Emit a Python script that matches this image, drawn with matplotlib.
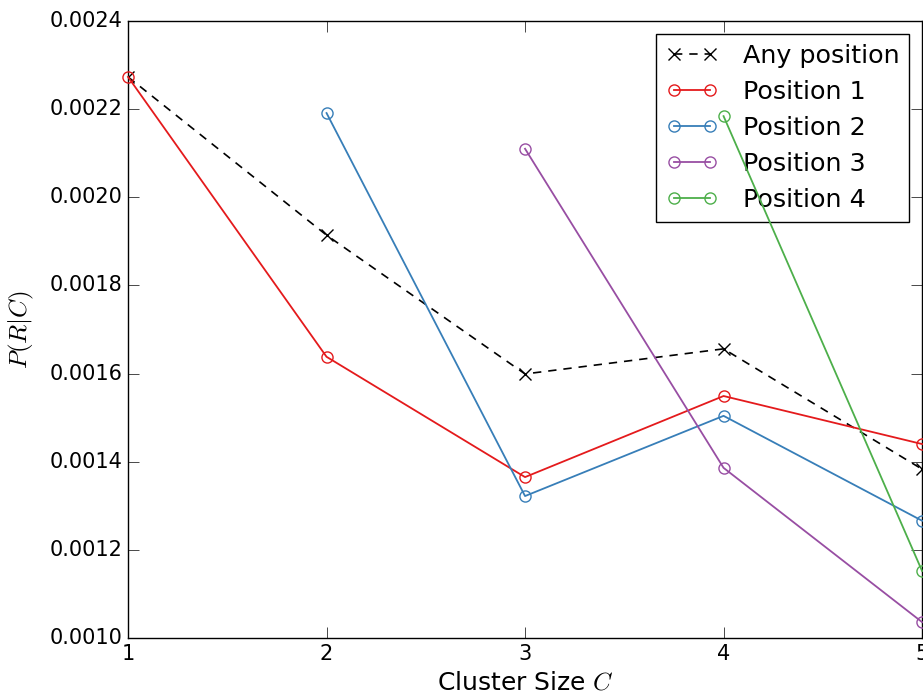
import matplotlib
matplotlib.use('Agg')
import matplotlib.pyplot as plt

plt.style.use('classic')

# cluster sizes and P(R|C)
sizes = [1, 2, 3, 4, 5]
any_pos = [0.002273, 0.001914, 0.001599, 0.001656, 0.001383]
pos1 = [0.002273, 0.001638, 0.001365, 0.001549, 0.001440]
pos2 = [0.002191, 0.001322, 0.001504, 0.001266]
pos3 = [0.002110, 0.001386, 0.001036]
pos4 = [0.002184, 0.001152]

colors = ['#e41a1c', '#377eb8', '#984ea3', '#4daf4a']

fig = plt.figure(figsize=(9.23, 6.98), dpi=100, facecolor='white')
ax = fig.add_axes([0.1387, 0.086, 0.8603, 0.884])

ax.plot(sizes, any_pos, 'k--x', markersize=8, mew=1, lw=1.2, dashes=(6, 5),
        label='Any position', zorder=3)
series = [pos1, pos2, pos3, pos4]
for i, s in enumerate(series):
    ax.plot(sizes[i:], s, '-o', color=colors[i], mfc='none', mec=colors[i],
            markersize=8, mew=1, lw=1.3, label='Position %d' % (i + 1),
            clip_on=False, zorder=3)

ax.set_xlim(1, 5)
ax.set_ylim(0.0010, 0.0024)
ax.set_xticks([1, 2, 3, 4, 5])
ax.set_yticks([0.0010, 0.0012, 0.0014, 0.0016, 0.0018, 0.0020, 0.0022, 0.0024])
ax.set_yticklabels(['0.0010', '0.0012', '0.0014', '0.0016', '0.0018', '0.0020', '0.0022', '0.0024'])
ax.tick_params(labelsize=15, length=8, direction='in')
ax.set_xlabel('Cluster Size $C$', fontsize=18)
ax.set_ylabel('$P(R|C)$', fontsize=18, labelpad=10)

leg = ax.legend(loc='upper right', fontsize=18.3, numpoints=2, fancybox=False,
                borderaxespad=0.5, handlelength=2.0, handletextpad=1.0,
                labelspacing=0.47)
leg.get_frame().set_edgecolor('black')
leg.set_zorder(2)

fig.savefig('out.png', dpi=100, facecolor='white')
plt.close()
